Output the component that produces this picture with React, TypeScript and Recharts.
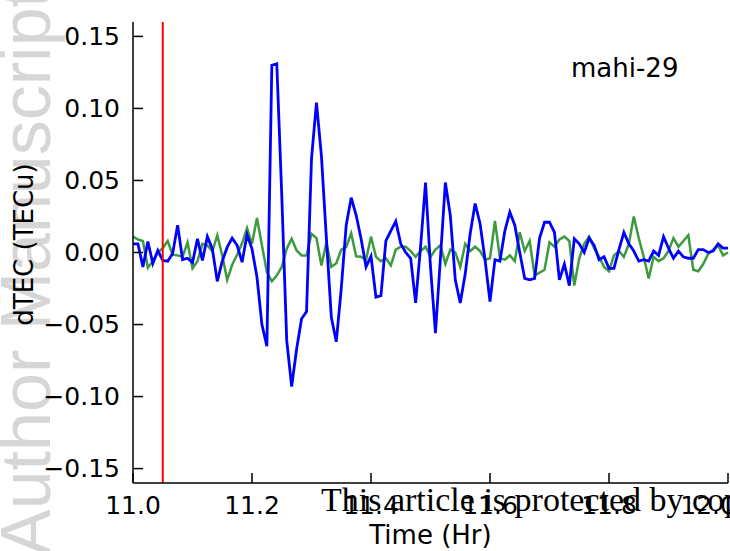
import { LineChart, Line, XAxis, YAxis, ReferenceLine } from 'recharts';

// 30 s samples from 11.0 Hr
const START_HR = 11;
const SAMPLES_PER_HR = 120;

const blueTec = [
  0.006, 0.006, -0.01, 0.0076, -0.0076, 0.0014, -0.0055, -0.006, -0.0007, 0.019,
  -0.005, -0.004, -0.007, 0.0095, -0.0055, 0.011, 0.0025, -0.02, -0.006, 0.0037,
  0.01, 0.005, -0.0067, 0.0124, 0.0025, -0.017, -0.05, -0.065, 0.13, 0.131,
  0.04, -0.061, -0.093, -0.067, -0.046, -0.041, 0.065, 0.104, 0.067, 0.01,
  -0.045, -0.062, -0.025, 0.019, 0.038, 0.026, 0.0095, -0.01, -0.0026, -0.031,
  -0.03, 0.008, 0.015, 0.0216, 0.006, 0.0, -0.004, -0.035, 0.004, 0.0486,
  -0.01, -0.056, -0.004, 0.0486, 0.0256, -0.019, -0.035, -0.015, 0.013, 0.034,
  0.02, -0.005, -0.034, -0.005, -0.006, 0.015, 0.028, 0.019, 0.0, -0.018,
  -0.019, -0.018, 0.01, 0.021, 0.021, 0.014, -0.019, -0.008, -0.023, 0.0095,
  0.006, 0.0, 0.01, 0.005, -0.005, -0.003, -0.011, -0.011, 0.002, 0.014,
  0.006, 0.001, -0.006, -0.005, -0.006, 0.001, -0.002, 0.011, 0.003, -0.004,
  0.001, -0.003, -0.004, -0.004, 0.002, 0.002, 0.0, 0.001, 0.006, 0.003,
  0.003,
];

const greenTec = [
  0.011, 0.009, 0.008, -0.0106, -0.006, 0.0, 0.003, 0.008, -0.0016, -0.002,
  -0.003, 0.007, -0.011, -0.006, 0.006, 0.005, 0.0007, 0.012, -0.002, -0.019,
  -0.0085, -0.0016, 0.0064, 0.017, 0.006, 0.024, 0.005, -0.0136, -0.02, -0.016,
  -0.01, 0.0026, 0.0095, 0.0014, -0.002, -0.002, 0.013, 0.01, -0.009, 0.007,
  -0.01, -0.0074, 0.002, 0.0037, 0.0134, -0.0026, -0.003, -0.005, 0.011, -0.003,
  -0.006, -0.004, -0.009, 0.002, 0.004, 0.004, 0.001, -0.003, 0.001, 0.004,
  -0.003, 0.002, 0.005, -0.008, 0.002, 0.0, -0.01, 0.006, 0.001, 0.004,
  0.001, -0.005, -0.004, 0.022, -0.004, -0.005, -0.002, -0.006, 0.014, 0.001,
  0.008, -0.016, -0.014, -0.012, 0.007, 0.004, 0.009, 0.011, 0.008, -0.023,
  -0.004, 0.006, 0.011, 0.003, -0.003, -0.01, -0.013, -0.002, 0.001, -0.003,
  0.006, 0.025, 0.01, -0.003, -0.018, -0.003, -0.006, -0.004, 0.001, 0.01,
  0.004, 0.008, 0.012, -0.012, -0.013, -0.008, -0.001, 0.002, 0.005, -0.002,
  0.0,
];

const timeTicks = [11.0, 11.2, 11.4, 11.6, 11.8, 12.0];
const tecTicks = [-0.15, -0.1, -0.05, 0, 0.05, 0.1, 0.15];
const eventTime = 11.05;
const stationName = 'mahi-29';

const data = blueTec.map((v, i) => ({
  t: START_HR + i / SAMPLES_PER_HR,
  blue: v,
  green: greenTec[i],
}));

const fmtTec = (v: number) => (v < 0 ? '\u2212' : '') + Math.abs(v).toFixed(2);
const fmtTime = (v: number) => v.toFixed(1);

const tickFont = { fill: '#000', fontSize: 25, fontFamily: 'DejaVu Sans' };

// y label sits a little above the axis middle, as in the source figure
const YLabel = (props: any) => {
  const vb = props.viewBox || {};
  const cx = (vb.x || 0) + 33;
  const cy = (vb.y || 0) + (vb.height || 0) / 2 - 8;
  return (
    <text
      x={cx}
      y={cy}
      transform={`rotate(-90, ${cx}, ${cy})`}
      textAnchor="middle"
      fontSize={26}
      fontFamily="DejaVu Sans"
      fill="#000"
    >
      dTEC (TECu)
    </text>
  );
};

const App = () => {
  return (
    <div style={{ position: 'absolute', left: 0, top: 0, width: 730, height: 551, overflow: 'hidden', background: '#fff' }}>
      <svg width={730} height={551} style={{ position: 'absolute', left: 0, top: 0 }}>
        <text
          transform="rotate(-90)"
          x={-556}
          y={50}
          fontSize={70}
          fontFamily="Liberation Sans"
          fill="#d6d6d6"
        >
          Author Manuscript
        </text>
      </svg>
      <div style={{ position: 'absolute', left: 0, top: 0 }}>
        <LineChart width={730} height={551} data={data} margin={{ top: 22, right: 2, bottom: 0, left: 0 }}>
          <XAxis
            dataKey="t"
            type="number"
            domain={[11, 12]}
            ticks={timeTicks}
            tickFormatter={fmtTime}
            height={68}
            tickSize={-10}
            tickMargin={23}
            stroke="#000"
            strokeWidth={1.5}
            tick={tickFont}
            label={{ value: 'Time (Hr)', position: 'insideBottom', offset: 7, fill: '#000', fontSize: 26, fontFamily: 'DejaVu Sans' }}
          />
          <XAxis
            xAxisId="top"
            orientation="top"
            type="number"
            domain={[11, 12]}
            ticks={timeTicks}
            height={0}
            tickSize={-10}
            tick={false}
            stroke="#000"
            strokeWidth={1.5}
          />
          <YAxis
            type="number"
            domain={[-0.16, 0.16]}
            ticks={tecTicks}
            tickFormatter={fmtTec}
            width={133}
            tickSize={-10}
            tickMargin={23}
            stroke="#000"
            strokeWidth={1.5}
            tick={tickFont}
            allowDataOverflow
            label={{ content: YLabel }}
          />
          <YAxis
            yAxisId="right"
            orientation="right"
            type="number"
            domain={[-0.16, 0.16]}
            ticks={tecTicks}
            width={0}
            tickSize={-10}
            tick={false}
            stroke="#000"
            strokeWidth={1.5}
          />
          <Line dataKey="green" stroke="#3d9b3d" strokeWidth={2.5} dot={false} isAnimationActive={false} />
          <Line dataKey="blue" stroke="#0000ff" strokeWidth={2.8} dot={false} isAnimationActive={false} />
          <ReferenceLine x={eventTime} stroke="#ff0000" strokeWidth={2} />
        </LineChart>
      </div>
      <svg width={730} height={551} style={{ position: 'absolute', left: 0, top: 0, pointerEvents: 'none' }}>
        <text x={571} y={77} fontSize={26} fontFamily="DejaVu Sans" fill="#000">
          {stationName}
        </text>
        <text x={321} y={511} fontSize={34} fontFamily="Liberation Serif" fill="#000">
          This article is protected by copyright. All rights reserved
        </text>
      </svg>
    </div>
  );
};

export default App;
